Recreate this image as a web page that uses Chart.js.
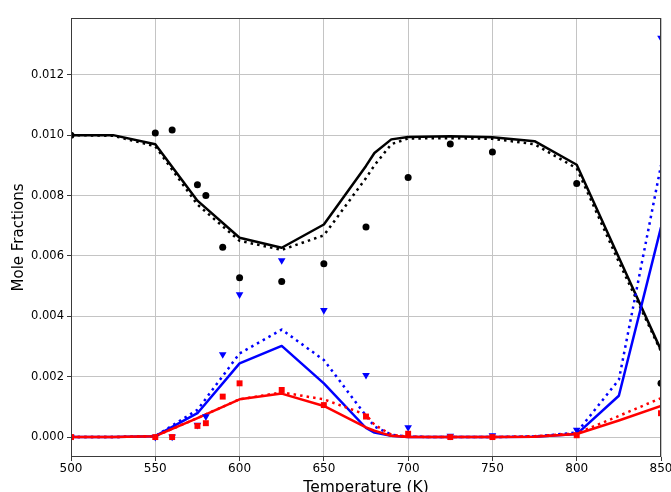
<!DOCTYPE html>
<html lang="en">
<head>
    <meta charset="UTF-8">
    <title>Mole Fractions vs Temperature</title>
    <script src="https://cdn.jsdelivr.net/npm/chart.js@4.4.1/dist/chart.umd.min.js"></script>
    <style>
        body { margin: 0; background: #fff; }
        #chart { display: block; }
    </style>
</head>
<body>
    <canvas id="chart" width="671" height="492"></canvas>

    <script>
        // model temperatures (K)
        const modelT = [500, 525, 550, 575, 600, 625, 650, 675, 680, 690, 700, 725, 750, 775, 800, 825, 850];
        const blackSolid  = [0.0100, 0.0100, 0.0097, 0.00783, 0.0066, 0.00627, 0.00704, 0.00898, 0.00941, 0.00986, 0.00994, 0.00996, 0.00993, 0.0098, 0.00902, 0.00595, 0.00288];
        const blackDotted = [0.0100, 0.00998, 0.00963, 0.0077, 0.0065, 0.0062, 0.00668, 0.00858, 0.0090, 0.0097, 0.00989, 0.0099, 0.00988, 0.0097, 0.0089, 0.0058, 0.00284];
        const blueSolid   = [0, 0, 0.00003, 0.00079, 0.00244, 0.00302, 0.00178, 0.0003, 0.00015, 0.00004, 0, 0, 0, 0.00001, 0.0001, 0.00137, 0.00695];
        const blueDotted  = [0, 0, 0.00003, 0.0009, 0.00277, 0.00356, 0.00255, 0.00071, 0.00035, 0.00008, 0.00001, 0, 0, 0.00002, 0.00015, 0.0019, 0.0090];
        const redSolid    = [0, 0, 0.00003, 0.00063, 0.00125, 0.00144, 0.00103, 0.00032, 0.00021, 0.00004, 0, 0, 0, 0.00001, 0.0001, 0.00055, 0.00103];
        const redDotted   = [0, 0, 0.00003, 0.00063, 0.00125, 0.00148, 0.00125, 0.00074, 0.00041, 0.00008, 0.00001, 0, 0, 0.00003, 0.00012, 0.0007, 0.00129];

        // measured points
        const expT     = [500, 550, 560, 575, 580, 590, 600, 625, 650, 675, 700, 725, 750, 800, 850];
        const expBlack = [0.0100, 0.01007, 0.01017, 0.00836, 0.0080, 0.00629, 0.00528, 0.00515, 0.00574, 0.00696, 0.0086, 0.00971, 0.00944, 0.0084, 0.00178];
        const expBlue  = [0, 0, 0.00001, 0.0004, 0.00068, 0.00274, 0.00472, 0.00585, 0.0042, 0.00205, 0.00032, 0.00004, 0.00005, 0.00024, 0.01322];
        const expRed   = [0, 0, 0, 0.00037, 0.00046, 0.00134, 0.00178, 0.00156, 0.00106, 0.00068, 0.00011, 0, 0, 0.00006, 0.00079];

        const xTicks = [500, 550, 600, 650, 700, 750, 800, 850];
        const yTicks = [0, 0.002, 0.004, 0.006, 0.008, 0.010, 0.012];

        const pts = (xs, ys) => xs.map((x, i) => ({ x: x, y: ys[i] }));
        const DOT = [2.5, 4.1];

        function modelLine(data, color, dashed, order) {
            return {
                type: 'line',
                data: pts(modelT, data),
                borderColor: color,
                borderWidth: 2.5,
                borderDash: dashed ? DOT : [],
                borderJoinStyle: 'round',
                pointRadius: 0,
                tension: 0,
                clip: 0,
                order: order
            };
        }

        function expPoints(data, color, style, radius, rot, order) {
            return {
                type: 'scatter',
                data: pts(expT, data),
                backgroundColor: color,
                borderColor: color,
                borderWidth: 0,
                pointStyle: style,
                pointRadius: radius,
                pointRotation: rot,
                showLine: false,
                clip: 0,
                order: order
            };
        }

        const frame = {
            id: 'frame',
            afterDatasetsDraw(chart) {
                const a = chart.chartArea, ctx = chart.ctx;
                ctx.save();
                ctx.strokeStyle = '#3a3a3a';
                ctx.lineWidth = 1;
                ctx.strokeRect(a.left + 0.5, a.top + 0.5, a.right - a.left - 1, a.bottom - a.top - 1);
                ctx.restore();
            }
        };

        Chart.defaults.font.family = "'DejaVu Sans', sans-serif";
        Chart.defaults.color = '#000';

        new Chart(document.getElementById('chart').getContext('2d'), {
            type: 'line',
            data: {
                datasets: [
                    modelLine(blackSolid, '#000000', false, 9),
                    modelLine(blackDotted, '#000000', true, 8),
                    modelLine(blueSolid, '#0000ff', false, 7),
                    modelLine(blueDotted, '#0000ff', true, 6),
                    modelLine(redSolid, '#ff0000', false, 5),
                    modelLine(redDotted, '#ff0000', true, 4),
                    expPoints(expBlack, '#000000', 'circle', 3.5, 0, 3),
                    expPoints(expBlue, '#0000ff', 'triangle', 4.4, 180, 2),
                    expPoints(expRed, '#ff0000', 'rect', 4.2, 0, 1)
                ]
            },
            options: {
                responsive: false,
                animation: false,
                layout: { padding: { top: 18, right: 10, left: 0, bottom: 0 } },
                plugins: {
                    legend: { display: false },
                    tooltip: { enabled: false }
                },
                scales: {
                    x: {
                        type: 'linear',
                        min: 500,
                        max: 850,
                        afterBuildTicks: s => { s.ticks = xTicks.map(v => ({ value: v })); },
                        afterFit: s => { s.height = 35; s.paddingLeft = 0; s.paddingRight = 0; },
                        grid: { color: '#c4c4c4', lineWidth: 1, tickLength: 4, tickColor: '#3a3a3a' },
                        border: { display: false },
                        ticks: {
                            font: { size: 12 },
                            padding: 1,
                            maxRotation: 0,
                            callback: v => String(v)
                        },
                        title: {
                            display: true,
                            text: 'Temperature (K)',
                            font: { size: 15.5 },
                            padding: { top: 0, bottom: -5 }
                        }
                    },
                    y: {
                        type: 'linear',
                        min: -0.00066,
                        max: 0.01388,
                        afterBuildTicks: s => { s.ticks = yTicks.map(v => ({ value: v })); },
                        afterFit: s => { s.width = 71; s.paddingTop = 0; s.paddingBottom = 0; },
                        grid: { color: '#c4c4c4', lineWidth: 1, tickLength: 4, tickColor: '#3a3a3a' },
                        border: { display: false },
                        ticks: {
                            font: { size: 11.5 },
                            padding: 3,
                            callback: v => v.toFixed(3)
                        },
                        title: {
                            display: true,
                            text: 'Mole Fractions',
                            font: { size: 15 },
                            padding: { top: 9.7, bottom: 0 }
                        }
                    }
                }
            },
            plugins: [frame]
        });
    </script>
</body>
</html>
